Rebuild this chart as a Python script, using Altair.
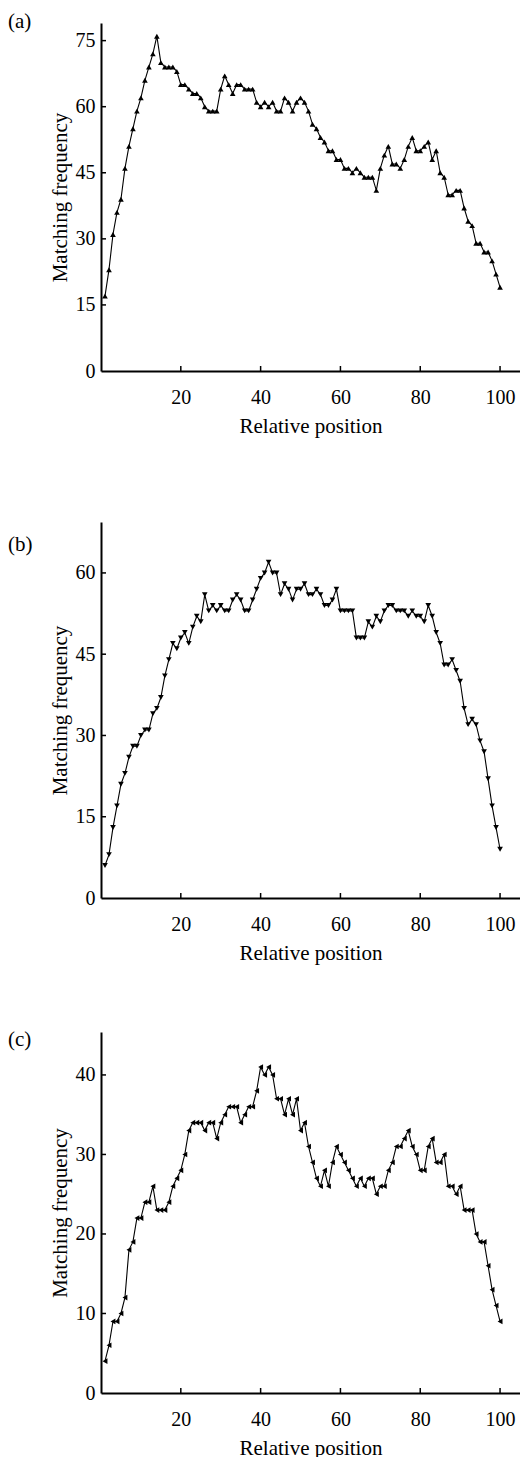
import altair as alt
import pandas as pd

positions = list(range(1, 101))

freq_a = [17, 23, 31, 36, 39, 46, 51, 55, 59, 62, 66, 69, 72, 76, 70, 69, 69, 69, 68, 65,
          65, 64, 63, 63, 62, 60, 59, 59, 59, 64, 67, 65, 63, 65, 65, 64, 64, 64, 61, 60,
          61, 60, 61, 59, 59, 62, 61, 59, 61, 62, 61, 59, 56, 55, 53, 52, 50, 50, 48, 48,
          46, 46, 45, 46, 45, 44, 44, 44, 41, 46, 49, 51, 47, 47, 46, 48, 51, 53, 50, 50,
          51, 52, 48, 50, 45, 44, 40, 40, 41, 41, 37, 34, 33, 29, 29, 27, 27, 25, 22, 19]

freq_b = [6, 8, 13, 17, 21, 23, 26, 28, 28, 30, 31, 31, 34, 35, 37, 41, 44, 47, 46, 48,
          49, 47, 50, 52, 51, 56, 53, 54, 53, 54, 53, 53, 55, 56, 55, 53, 53, 55, 57, 59,
          60, 62, 60, 60, 56, 58, 57, 55, 57, 57, 58, 56, 56, 57, 56, 54, 54, 55, 57, 53,
          53, 53, 53, 48, 48, 48, 51, 50, 52, 51, 53, 54, 54, 53, 53, 53, 52, 53, 52, 52,
          51, 54, 52, 49, 47, 43, 43, 44, 42, 40, 35, 32, 33, 32, 29, 27, 22, 17, 13, 9]

freq_c = [4, 6, 9, 9, 10, 12, 18, 19, 22, 22, 24, 24, 26, 23, 23, 23, 24, 26, 27, 28,
          30, 33, 34, 34, 34, 33, 34, 34, 32, 34, 35, 36, 36, 36, 34, 35, 36, 36, 38, 41,
          40, 41, 40, 37, 37, 35, 37, 35, 37, 33, 34, 31, 29, 27, 26, 28, 26, 29, 31, 30,
          29, 28, 27, 26, 27, 26, 27, 27, 25, 26, 26, 28, 29, 31, 31, 32, 33, 31, 30, 28,
          28, 31, 32, 29, 29, 30, 26, 26, 25, 26, 23, 23, 23, 20, 19, 19, 16, 13, 11, 9]

x_ticks = [20, 40, 60, 80, 100]
y_ticks_a = [15, 30, 45, 60, 75]
y_ticks_b = [15, 30, 45, 60]
y_ticks_c = [10, 20, 30, 40]
y_labels_a = [0, 15, 30, 45, 60, 75]
y_labels_b = [0, 15, 30, 45, 60]
y_labels_c = [0, 10, 20, 30, 40]

FONT = "Liberation Serif"
W = 419
X_MAX = 105


def panel(values, shape, ymax, height, yticks, ylabels, tag, tag_y):
    df = pd.DataFrame({"pos": positions, "freq": values})
    xs = alt.Scale(domain=[0, X_MAX], nice=False, zero=False)
    ys = alt.Scale(domain=[0, ymax], nice=False, zero=False)
    xax = alt.Axis(values=x_ticks, title="Relative position", ticks=False, tickSize=0,
                   labelPadding=16, titlePadding=8, grid=False)
    yax = alt.Axis(values=ylabels, title="Matching frequency", ticks=False, tickSize=0,
                   labelPadding=6, titlePadding=5, grid=False)
    base = alt.Chart(df)
    line = base.mark_line(color="black", strokeWidth=1.1).encode(
        x=alt.X("pos:Q", scale=xs, axis=xax),
        y=alt.Y("freq:Q", scale=ys, axis=yax),
    )
    pts = base.mark_point(shape=shape, filled=True, size=32, color="black", opacity=1).encode(
        x=alt.X("pos:Q", scale=xs),
        y=alt.Y("freq:Q", scale=ys),
    )
    xt = alt.Chart(pd.DataFrame({"t": x_ticks})).mark_rule(color="black", strokeWidth=1.5).encode(
        x=alt.X("t:Q", scale=xs),
        y=alt.value(height),
        y2=alt.value(height - 5),
    )
    yt = alt.Chart(pd.DataFrame({"t": yticks})).mark_rule(color="black", strokeWidth=1.5).encode(
        y=alt.Y("t:Q", scale=ys),
        x=alt.value(0),
        x2=alt.value(5),
    )
    lab = alt.Chart(pd.DataFrame({"t": [tag]})).mark_text(
        align="left", baseline="top", font=FONT, fontSize=21, color="black"
    ).encode(text="t:N", x=alt.value(-93), y=alt.value(tag_y))
    return alt.layer(line, pts, xt, yt, lab).properties(width=W, height=height)


pa = panel(freq_a, "triangle-up", 79, 348, y_ticks_a, y_labels_a, "(a)", -12)
pb = panel(freq_b, "triangle-down", 69.4, 376, y_ticks_b, y_labels_b, "(b)", 12)
pc = panel(freq_c, "triangle-left", 45.4, 361, y_ticks_c, y_labels_c, "(c)", -3)

chart = alt.vconcat(alt.vconcat(pa, pb, spacing=86), pc, spacing=66).properties(
    padding={"left": 8, "top": 11, "right": 0, "bottom": 0}
).configure_view(stroke=None).configure_axis(
    domainColor="black", domainWidth=2, labelFont=FONT, labelFontSize=20, labelColor="black",
    titleFont=FONT, titleFontSize=21, titleFontWeight="normal", titleColor="black",
)

chart.save("out.html", embed_options={"renderer": "svg", "actions": False})
